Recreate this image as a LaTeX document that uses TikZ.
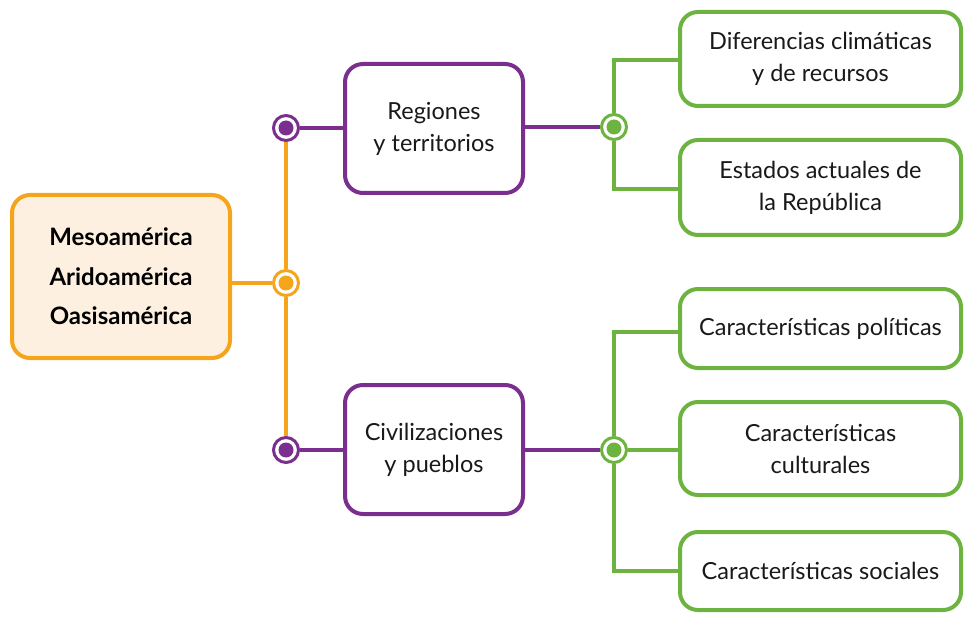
\documentclass[tikz,border=0pt]{standalone}
\usepackage{fontspec}
\setmainfont{Lato}
\definecolor{orng}{HTML}{F5A51C}
\definecolor{purp}{HTML}{7A2E8E}
\definecolor{grn}{HTML}{6CB43F}
\definecolor{cream}{HTML}{FDF0E1}
\tikzset{
  box/.style={rectangle, rounded corners=18pt, line width=4pt, align=center, inner sep=0pt, fill=white,
    font=\fontsize{23.5}{32}\selectfont, text=black!90},
  rootbox/.style={box, draw=orng, fill=cream, minimum width=218pt, minimum height=163pt,
    font=\fontsize{24}{39.5}\selectfont\bfseries, text=black},
  pbox/.style={box, draw=purp, minimum width=178pt, minimum height=129pt},
  gbox/.style={box, draw=grn, minimum width=281pt},
  hub/.style={circle, draw=#1, line width=3pt, fill=white, minimum size=25pt, inner sep=0pt,
    path picture={\fill[#1] (path picture bounding box.center) circle (7.5pt);}},
  link/.style={line width=4pt, draw=#1}
}
\begin{document}
\begin{tikzpicture}[x=1pt,y=-1pt]
\useasboundingbox (0,0) rectangle (965,617);
% nodes
\node[rootbox] (root) at (121,276.5) {Mesoamérica\\Aridoamérica\\Oasisamérica};
\node[hub=orng] (oc) at (286,283) {};
\node[hub=purp] (pc1) at (286,128) {};
\node[hub=purp] (pc2) at (286,450) {};
\node[pbox] (p1) at (434,128.5) {Regiones\\y territorios};
\node[pbox] (p2) at (434,449.5) {Civilizaciones\\y pueblos};
\node[hub=grn] (gc1) at (614,127) {};
\node[hub=grn] (gc2) at (614,450) {};
\node[gbox, minimum height=94pt] (g1) at (820.5,59) {Diferencias climáticas\\y de recursos};
\node[gbox, minimum height=95pt] (g2) at (820.5,187.5) {Estados actuales de\\la República};
\node[gbox, minimum height=79pt] (g3) at (820.5,328.5) {Características políticas};
\node[gbox, minimum height=93pt] (g4) at (820.5,448.5) {Características\\culturales};
\node[gbox, minimum height=78pt] (g5) at (820.5,571) {Características sociales};
% connectors
\draw[link=orng] (root.east |- oc) -- (oc);
\draw[link=orng] (oc) -- (pc1);
\draw[link=orng] (oc) -- (pc2);
\draw[link=purp] (pc1) -- (p1.west |- pc1);
\draw[link=purp] (pc2) -- (p2.west |- pc2);
\draw[link=purp] (p1.east |- gc1) -- (gc1);
\draw[link=purp] (p2.east |- gc2) -- (gc2);
\draw[link=grn] (gc1) |- ([yshift=-1pt]g1.west);
\draw[link=grn] (gc1) |- ([yshift=-1.5pt]g2.west);
\draw[link=grn] (gc2) |- ([yshift=-3.5pt]g3.west);
\draw[link=grn] (gc2) -- (g4.west |- gc2);
\draw[link=grn] (gc2) |- (g5.west);
\end{tikzpicture}
\end{document}
